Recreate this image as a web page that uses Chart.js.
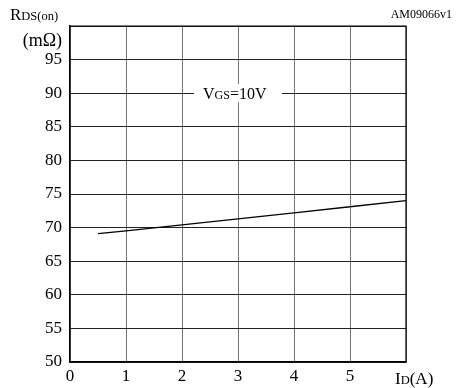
<!DOCTYPE html>
<html><head><meta charset="utf-8">
<script src="https://cdn.jsdelivr.net/npm/chart.js@4"></script>
<style>html,body{margin:0;padding:0;background:#fff}#wrap{width:457px;height:388px}</style>
</head><body><div id="wrap"><canvas id="c"></canvas></div>
<script>
const currentA = [0.5, 1, 2, 3, 4, 5, 6];
const rdsOn = [69.1, 69.5, 70.4, 71.3, 72.2, 73.1, 74.0];
const yTicks = [50, 55, 60, 65, 70, 75, 80, 85, 90, 95];
const xTicks = [0, 1, 2, 3, 4, 5];
const seriesLabel = 'VGS=10V';

const SERIF = '"Liberation Serif", "Times New Roman", serif';

const textPlugin = {
  id: 'texts',
  afterDraw(chart) {
    const ctx = chart.ctx;
    const xs = chart.scales.x, ys = chart.scales.y;
    ctx.save();
    ctx.textBaseline = 'alphabetic';
    // series label with white background
    const cx = xs.getPixelForValue(3), cy = ys.getPixelForValue(90);
    ctx.fillStyle = '#fff';
    ctx.fillRect(cx - 44, cy - 9, 88, 18);
    ctx.fillStyle = '#000';
    let x = cx - 35, base = cy + 6;
    ctx.textAlign = 'left';
    ctx.font = '16px ' + SERIF; ctx.fillText('V', x, base); x += ctx.measureText('V').width;
    ctx.font = '12px ' + SERIF; ctx.fillText('GS', x, base); x += ctx.measureText('GS').width;
    ctx.font = '16px ' + SERIF; ctx.fillText('=10V', x, base);
    // y axis title
    x = 10; base = 20;
    ctx.font = '17px ' + SERIF; ctx.fillText('R', x, base); x += ctx.measureText('R').width;
    ctx.font = '12.5px ' + SERIF; ctx.fillText('DS(on)', x, base);
    ctx.font = '18px ' + SERIF; ctx.textAlign = 'right'; ctx.fillText('(m\u03A9)', 62, 46);
    // top right code
    ctx.font = '12px ' + SERIF; ctx.textAlign = 'right'; ctx.fillText('AM09066v1', 452, 18);
    // x axis title
    ctx.textAlign = 'left'; x = 395; base = 384;
    ctx.font = '17px ' + SERIF; ctx.fillText('I', x, base); x += ctx.measureText('I').width;
    ctx.font = '12.5px ' + SERIF; ctx.fillText('D', x, base); x += ctx.measureText('D').width;
    ctx.font = '17px ' + SERIF; ctx.fillText('(A)', x, base);
    ctx.restore();
  }
};

new Chart(document.getElementById('c'), {
  type: 'line',
  data: {
    datasets: [{
      label: seriesLabel,
      data: currentA.map((v, i) => ({x: v, y: rdsOn[i]})),
      borderColor: '#000', borderWidth: 1.3, pointRadius: 0, tension: 0, fill: false
    }]
  },
  options: {
    responsive: true, maintainAspectRatio: false, animation: false,
    layout: {padding: {top: 26, right: 51, left: 0, bottom: 0}},
    plugins: {legend: {display: false}, tooltip: {enabled: false}},
    scales: {
      x: {
        type: 'linear', min: 0, max: 6,
        afterFit: s => { s.height = 26; },
        afterBuildTicks: s => { s.ticks = [0,1,2,3,4,5,6].map(v => ({value: v})); },
        grid: {color: '#777', lineWidth: 1, drawTicks: false},
        border: {color: '#000', width: 1.5},
        ticks: {
          padding: 4, color: '#000', maxRotation: 0,
          font: {family: SERIF, size: 17},
          callback: v => xTicks.includes(v) ? String(v) : ''
        }
      },
      y: {
        min: 50, max: 100,
        afterFit: s => { s.width = 70; },
        afterBuildTicks: s => { s.ticks = yTicks.concat([100]).map(v => ({value: v})); },
        grid: {color: '#222', lineWidth: 1, drawTicks: false},
        border: {color: '#000', width: 1.5},
        ticks: {
          padding: 8, color: '#000',
          font: {family: SERIF, size: 17},
          callback: v => yTicks.includes(v) ? String(v) : ''
        }
      }
    }
  },
  plugins: [textPlugin, {
    id: 'frame',
    afterDatasetsDraw(chart) {
      const a = chart.chartArea, ctx = chart.ctx;
      ctx.save(); ctx.strokeStyle = '#000'; ctx.lineWidth = 1.2;
      ctx.beginPath(); ctx.moveTo(a.left, a.top); ctx.lineTo(a.right, a.top); ctx.lineTo(a.right, a.bottom); ctx.stroke();
      ctx.restore();
    }
  }]
});
</script></body></html>
